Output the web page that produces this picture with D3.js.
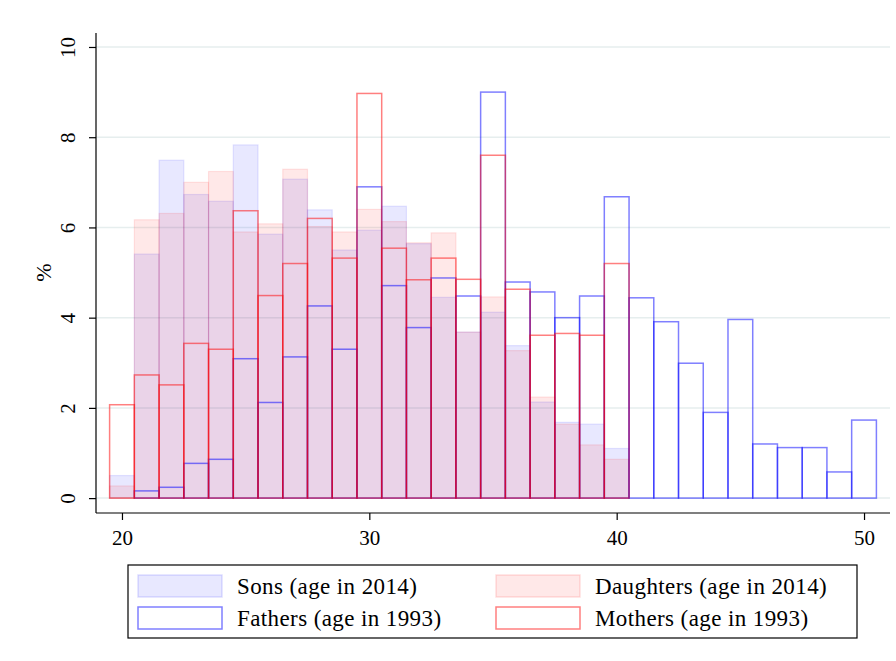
<!DOCTYPE html>
<html>
<head>
<meta charset="utf-8">
<script src="https://cdn.jsdelivr.net/npm/d3@7"></script>
<style>
  body { margin: 0; background: #fff; }
  text { font-family: "Liberation Serif", "DejaVu Serif", serif; }
</style>
</head>
<body>
<div id="chart"></div>
<script>
// ages (bin centres, width 1)
const ages = d3.range(20, 51);

// percent per age
const sons = [0.5, 5.41, 7.49, 6.73, 6.58, 7.83, 5.85, 7.07, 6.39, 5.5, 5.94, 6.47, 5.64, 4.45, 3.68, 4.12, 3.38, 2.13, 1.68, 1.64, 1.1,
  0, 0, 0, 0, 0, 0, 0, 0, 0, 0];
const daughters = [0.27, 6.17, 6.31, 7.0, 7.24, 5.9, 6.08, 7.29, 6.02, 5.9, 6.4, 6.13, 5.66, 5.88, 3.68, 4.46, 3.27, 2.24, 1.64, 1.18, 0.86,
  0, 0, 0, 0, 0, 0, 0, 0, 0, 0];
const fathers = [0, 0.16, 0.24, 0.77, 0.86, 3.09, 2.12, 3.13, 4.26, 3.3, 6.9, 4.71, 3.78, 4.88, 4.48, 9.0, 4.79, 4.57, 4.0, 4.48, 6.68,
  4.44, 3.91, 2.99, 1.9, 3.96, 1.2, 1.12, 1.12, 0.58, 1.73];
const mothers = [2.07, 2.73, 2.51, 3.43, 3.3, 6.37, 4.49, 5.2, 6.2, 5.32, 8.97, 5.54, 4.84, 5.32, 4.85, 7.6, 4.63, 3.61, 3.65, 3.61, 5.2,
  0, 0, 0, 0, 0, 0, 0, 0, 0, 0];

const xTicks = [20, 30, 40, 50];
const yTicks = [0, 2, 4, 6, 8, 10];

const series = [
  { name: "Sons (age in 2014)", values: sons, fill: "rgba(0,0,255,0.09)", stroke: "rgba(0,0,255,0.1)", sw: 1.2 },
  { name: "Daughters (age in 2014)", values: daughters, fill: "rgba(255,0,0,0.09)", stroke: "rgba(255,0,0,0.1)", sw: 1.2 },
  { name: "Fathers (age in 1993)", values: fathers, fill: "none", stroke: "rgba(0,0,255,0.5)", sw: 1.5 },
  { name: "Mothers (age in 1993)", values: mothers, fill: "none", stroke: "rgba(255,0,0,0.5)", sw: 1.5 }
];

const W = 896, H = 661;
const plot = { left: 96, right: 890, top: 33, bottom: 513 };

const svg = d3.select("#chart").append("svg")
  .attr("width", W)
  .attr("height", H);

const x = d3.scaleLinear().domain([18.95, 51.05]).range([plot.left, plot.right]);
const y = d3.scaleLinear().domain([-0.33, 10.31]).range([plot.bottom, plot.top]);

// grid lines
svg.append("g")
  .selectAll("line")
  .data(yTicks)
  .enter()
  .append("line")
  .attr("x1", plot.left)
  .attr("x2", plot.right)
  .attr("y1", d => y(d))
  .attr("y2", d => y(d))
  .style("stroke", "#e6eeee")
  .style("stroke-width", 1.5);

// bars
series.forEach(function (s) {
  svg.append("g")
    .selectAll("rect")
    .data(ages.map((a, i) => ({ age: a, v: s.values[i] })).filter(d => d.v > 0))
    .enter()
    .append("rect")
    .attr("x", d => x(d.age - 0.5))
    .attr("width", d => x(d.age + 0.5) - x(d.age - 0.5))
    .attr("y", d => y(d.v))
    .attr("height", d => y(0) - y(d.v))
    .style("fill", s.fill)
    .style("stroke", s.stroke)
    .style("stroke-width", s.sw);
});

// axes
const xAxis = svg.append("g")
  .attr("transform", "translate(0," + plot.bottom + ")")
  .call(d3.axisBottom(x).tickValues(xTicks).tickSize(7).tickPadding(10).tickSizeOuter(0));
xAxis.select(".domain").attr("d", "M" + plot.left + ",0H" + plot.right);

const yAxis = svg.append("g")
  .attr("transform", "translate(" + plot.left + ",0)")
  .call(d3.axisLeft(y).tickValues(yTicks).tickSize(7).tickSizeOuter(0));
yAxis.select(".domain").attr("d", "M0," + plot.bottom + "V" + plot.top);
yAxis.selectAll(".tick text")
  .attr("transform", "rotate(-90)")
  .attr("x", 0)
  .attr("y", -28)
  .attr("dy", "0.35em")
  .style("text-anchor", "middle");

svg.selectAll(".tick text")
  .style("font-family", "'Liberation Serif', serif")
  .style("font-size", "21px")
  .style("fill", "#000");
svg.selectAll(".domain, .tick line")
  .style("stroke", "#000")
  .style("stroke-width", 1.2);

// y title
svg.append("text")
  .attr("transform", "translate(43," + y(5) + ") rotate(-90)")
  .attr("dy", "0.35em")
  .style("text-anchor", "middle")
  .style("font-size", "22px")
  .text("%");

// legend
const legend = svg.append("g");
legend.append("rect")
  .attr("x", 128)
  .attr("y", 565)
  .attr("width", 729)
  .attr("height", 73)
  .style("fill", "#fff")
  .style("stroke", "#000")
  .style("stroke-width", 1.2);

series.forEach(function (s, i) {
  let col = i % 2, row = Math.floor(i / 2);
  let lx = col === 0 ? 138 : 496;
  let ly = 575 + row * 32;
  legend.append("rect")
    .attr("x", lx)
    .attr("y", ly)
    .attr("width", 84)
    .attr("height", 22)
    .style("fill", s.fill === "none" ? "#fff" : s.fill)
    .style("stroke", s.fill === "none" ? s.stroke : (i === 0 ? "rgba(0,0,255,0.13)" : "rgba(255,0,0,0.13)"))
    .style("stroke-width", 1.5);
  legend.append("text")
    .attr("x", lx + 99)
    .attr("y", ly + 11)
    .attr("dy", "0.35em")
    .style("font-size", "23px")
    .style("letter-spacing", "0.4px")
    .text(s.name);
});
</script>
</body>
</html>
